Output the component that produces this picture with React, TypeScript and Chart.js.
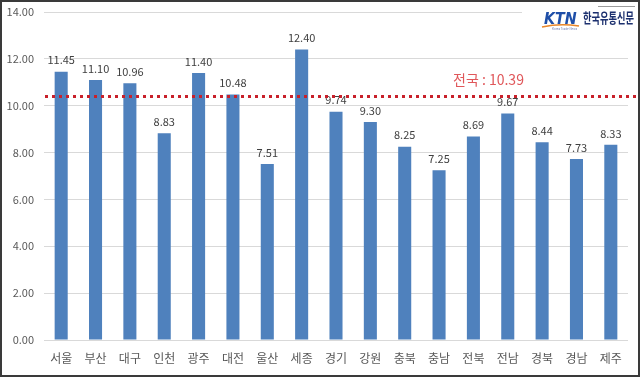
import React, { useEffect, useRef } from "react";
import { Chart, registerables } from "chart.js";

Chart.register(...registerables);

const regions = ["서울", "부산", "대구", "인천", "광주", "대전", "울산", "세종", "경기", "강원", "충북", "충남", "전북", "전남", "경북", "경남", "제주"];
const rates = [11.45, 11.1, 10.96, 8.83, 11.4, 10.48, 7.51, 12.4, 9.74, 9.3, 8.25, 7.25, 8.69, 9.67, 8.44, 7.73, 8.33];
const nationalAvg = 10.39;
const nationalLabel = "전국 : 10.39";
const logoMark = "KTN";
const logoName = "한국유통신문";
const logoSub = "Korea Trade News";

const FONT = "'Noto Sans CJK KR', 'Noto Sans', sans-serif";

const overlayPlugin = {
  id: "overlay",
  afterDatasetsDraw(chart: any) {
    const ctx = chart.ctx;
    const meta = chart.getDatasetMeta(0);
    ctx.save();
    ctx.fillStyle = "#404040";
    ctx.font = `11px ${FONT}`;
    ctx.textAlign = "center";
    ctx.textBaseline = "bottom";
    meta.data.forEach((bar: any, i: number) => {
      ctx.fillText(rates[i].toFixed(2), bar.x, bar.y - 6);
    });
    ctx.restore();
  },
  afterDraw(chart: any) {
    const ctx = chart.ctx;
    const y = chart.scales.y.getPixelForValue(nationalAvg);
    const area = chart.chartArea;
    ctx.save();
    // average line
    ctx.strokeStyle = "#c8202a";
    ctx.lineWidth = 3;
    ctx.setLineDash([3, 4]);
    ctx.beginPath();
    ctx.moveTo(area.left + 1, y);
    ctx.lineTo(637, y);
    ctx.stroke();
    ctx.setLineDash([]);
    ctx.fillStyle = "#e0575a";
    ctx.font = `14px ${FONT}`;
    ctx.textAlign = "left";
    ctx.textBaseline = "middle";
    ctx.fillText(nationalLabel, 453, y - 17);

    // logo
    ctx.fillStyle = "#ffffff";
    ctx.fillRect(522, 3, 115, 28);
    ctx.textAlign = "left";
    ctx.textBaseline = "alphabetic";
    ctx.save();
    ctx.translate(544, 24);
    ctx.scale(0.95, 1);
    ctx.font = `italic 900 15px 'DejaVu Sans', sans-serif`;
    ctx.fillStyle = "#1f4fa8";
    ctx.fillText(logoMark, 0, 0);
    ctx.restore();
    ctx.strokeStyle = "#e8862a";
    ctx.lineWidth = 1.5;
    ctx.beginPath();
    ctx.moveTo(542, 27);
    ctx.quadraticCurveTo(560, 23, 579, 26);
    ctx.stroke();
    ctx.font = `3px ${FONT}`;
    ctx.fillStyle = "#6a7ab0";
    ctx.fillText(logoSub, 552, 30);
    ctx.save();
    ctx.translate(583, 23);
    ctx.scale(0.66, 1);
    ctx.font = `bold 14px ${FONT}`;
    ctx.fillStyle = "#1b2f6e";
    ctx.fillText(logoName, 0, 0);
    ctx.restore();
    ctx.fillStyle = "#9a9a9a";
    ctx.fillRect(598, 6, 37, 1);

    // outer border
    ctx.strokeStyle = "#3a3a3a";
    ctx.lineWidth = 2;
    ctx.strokeRect(1, 1, 638, 375);
    ctx.restore();
  },
};

export default function App() {
  const ref = useRef<HTMLCanvasElement | null>(null);
  useEffect(() => {
    document.body.style.margin = "0";
    const chart = new Chart(ref.current as HTMLCanvasElement, {
      type: "bar",
      data: {
        labels: regions,
        datasets: [
          {
            data: rates,
            backgroundColor: "#4f81bd",
            barPercentage: 0.38,
            categoryPercentage: 1,
          },
        ],
      },
      options: {
        animation: false,
        responsive: false,
        maintainAspectRatio: false,
        layout: { padding: { top: 12, right: 12, bottom: 0, left: 0 } },
        plugins: { legend: { display: false }, tooltip: { enabled: false } },
        scales: {
          x: {
            grid: { display: false, drawTicks: false },
            border: { display: false },
            ticks: { color: "#595959", font: { family: FONT, size: 12 }, padding: 11, maxRotation: 0, autoSkip: false },
            afterFit: (s: any) => { s.height = 37; s.paddingLeft = 0; s.paddingRight = 0; },
          },
          y: {
            min: 0,
            max: 14,
            ticks: {
              stepSize: 2,
              color: "#595959",
              font: { family: FONT, size: 11 },
              padding: 10,
              callback: (v: any) => Number(v).toFixed(2),
            },
            grid: { color: "#d9d9d9", drawTicks: false, lineWidth: 1 },
            border: { display: false },
            afterFit: (s: any) => { s.width = 44; s.paddingTop = 0; s.paddingBottom = 0; },
          },
        },
      },
      plugins: [overlayPlugin],
    });
    return () => chart.destroy();
  }, []);
  return (
    <div style={{ width: 640, height: 377 }}>
      <canvas ref={ref} width={640} height={377} />
    </div>
  );
}
